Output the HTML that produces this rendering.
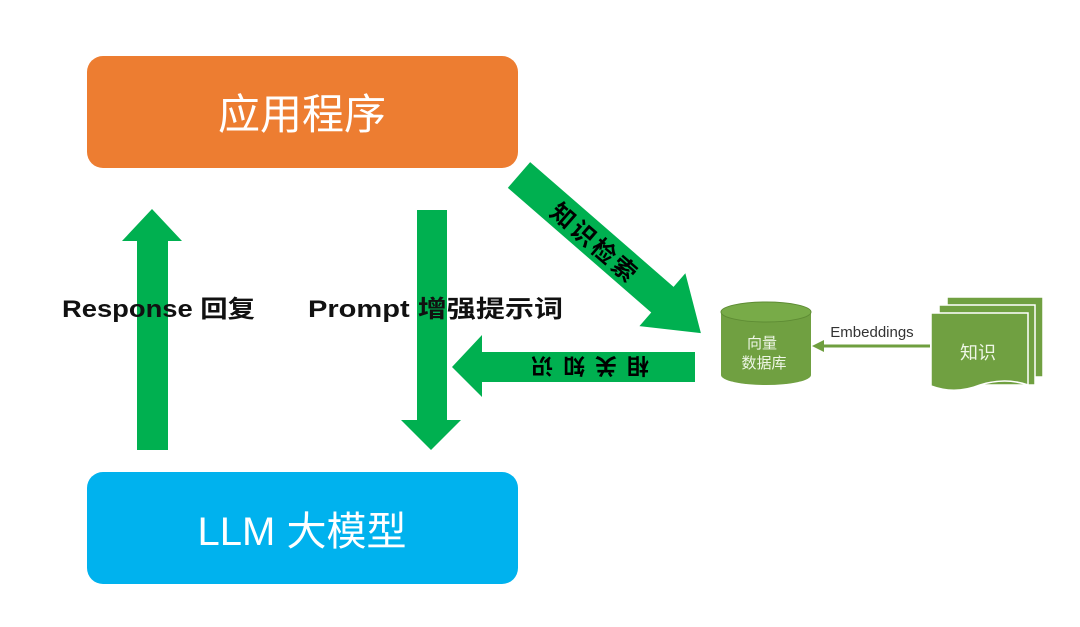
<!DOCTYPE html>
<html><head><meta charset="utf-8"><style>
html,body{margin:0;padding:0;background:#fff;}
svg{display:block;}
</style></head><body>
<svg width="1080" height="627" viewBox="0 0 1080 627" xmlns="http://www.w3.org/2000/svg" font-family="Liberation Sans, Noto Sans CJK SC, sans-serif">
<rect width="1080" height="627" fill="#fff"/>
<rect x="87" y="56" width="431" height="112" rx="16" fill="#ED7D31"/>
<text x="302" y="129" font-size="42" fill="#fff" text-anchor="middle" font-family="Noto Sans CJK SC, sans-serif">应用程序</text>
<rect x="87" y="472" width="431" height="112" rx="16" fill="#00B2EE"/>
<text x="302" y="545" font-size="40" fill="#fff" text-anchor="middle" font-family="Liberation Sans, Noto Sans CJK SC, sans-serif">LLM 大模型</text>
<polygon points="137,450 168,450 168,241 182,241 152,209 122,241 137,241" fill="#00B050"/>
<polygon points="417,210 447,210 447,420 461,420 431,450 401,420 417,420" fill="#00B050"/>
<polygon points="695,352 695,382 482,382 482,397 452,367 482,335 482,352" fill="#00B050"/>
<text transform="translate(585,367) rotate(180)" font-size="22" font-weight="bold" text-anchor="middle" dominant-baseline="central" font-family="Noto Sans CJK SC, sans-serif" fill="#000" letter-spacing="10">相关知识</text>
<g transform="translate(519,175) rotate(41)">
<polygon points="0,-17 190,-17 190,-35 241,0 190,35 190,17 0,17" fill="#00B050"/>
<text x="102" y="0" font-size="24" font-weight="bold" text-anchor="middle" dominant-baseline="central" font-family="Noto Sans CJK SC, sans-serif" fill="#000" letter-spacing="3">知识检索</text>
</g>
<text x="62" y="317" font-size="24" font-weight="bold" fill="#111" textLength="193" lengthAdjust="spacingAndGlyphs" font-family="Liberation Sans, Noto Sans CJK SC, sans-serif">Response 回复</text>
<text x="308" y="317" font-size="24" font-weight="bold" fill="#111" textLength="255" lengthAdjust="spacingAndGlyphs" font-family="Liberation Sans, Noto Sans CJK SC, sans-serif">Prompt 增强提示词</text>
<path d="M721,312 L721,375 A45,10 0 0 0 811,375 L811,312 Z" fill="#70A041"/>
<ellipse cx="766" cy="312" rx="45" ry="10" fill="#78AB48" stroke="#5e8c34" stroke-width="1"/>
<text x="762" y="348" font-size="15" fill="#eef6e6" text-anchor="middle" font-family="Noto Sans CJK SC, sans-serif">向量</text>
<text x="764" y="368" font-size="15" fill="#eef6e6" text-anchor="middle" font-family="Noto Sans CJK SC, sans-serif">数据库</text>
<line x1="930" y1="346" x2="820" y2="346" stroke="#6F9F3F" stroke-width="3"/>
<polygon points="812,346 824,340 824,352" fill="#6F9F3F"/>
<text x="872" y="337" font-size="15" fill="#333" text-anchor="middle">Embeddings</text>
<rect x="947" y="297" width="96" height="80" fill="#70A041" stroke="#fff" stroke-width="1.5"/>
<rect x="939" y="305" width="96" height="80" fill="#70A041" stroke="#fff" stroke-width="1.5"/>
<path d="M931,313 L1028,313 L1028,385 Q1005,377 980,385 Q955,395 931,386 Z" fill="#70A041" stroke="#fff" stroke-width="1.5"/>
<text x="978" y="359" font-size="18" fill="#eef6e6" text-anchor="middle" font-family="Noto Sans CJK SC, sans-serif">知识</text>
</svg>
</body></html>
